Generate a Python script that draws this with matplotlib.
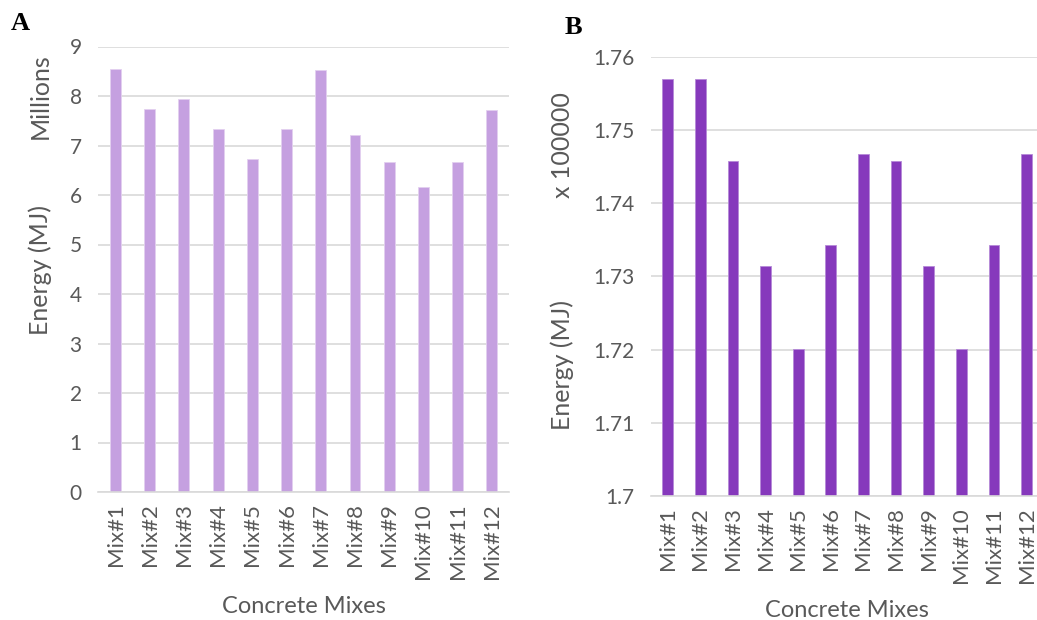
import matplotlib
matplotlib.use("Agg")
import matplotlib.pyplot as plt
import numpy as np

categories = ["Mix#1", "Mix#2", "Mix#3", "Mix#4", "Mix#5", "Mix#6",
              "Mix#7", "Mix#8", "Mix#9", "Mix#10", "Mix#11", "Mix#12"]
energy_a_millions = [8.55, 7.73, 7.94, 7.33, 6.72, 7.33, 8.53, 7.21, 6.67, 6.16, 6.67, 7.72]
energy_b_100000 = [1.7569, 1.7569, 1.7457, 1.7314, 1.7201, 1.7343,
                   1.7467, 1.7457, 1.7314, 1.7201, 1.7343, 1.7467]
yticks_a = [0, 1, 2, 3, 4, 5, 6, 7, 8, 9]
yticks_b = [1.70, 1.71, 1.72, 1.73, 1.74, 1.75, 1.76]
yticklabels_b = ["1.7", "1.71", "1.72", "1.73", "1.74", "1.75", "1.76"]

W, H = 1037, 620
fig = plt.figure(figsize=(W / 100, H / 100), dpi=100)
plt.rcParams['font.family'] = ['Lato', 'DejaVu Sans']

TXT = "#595959"
GRID = "#D9D9D9"

def px_axes(x0, y0, x1, y1):
    return fig.add_axes([x0 / W, 1 - y1 / H, (x1 - x0) / W, (y1 - y0) / H])

def style(ax):
    for s in ["top", "right", "left"]:
        ax.spines[s].set_visible(False)
    ax.spines["bottom"].set_color(GRID)
    ax.spines["bottom"].set_linewidth(1.2)
    ax.tick_params(axis="both", length=0, colors=TXT)
    ax.tick_params(axis="x", rotation=90, pad=8, labelsize=16)
    ax.tick_params(axis="y", pad=12, labelsize=15)
    ax.yaxis.grid(True, color=GRID, linewidth=1.2)
    ax.set_axisbelow(True)

x = np.arange(len(categories))

# Panel A
axA = px_axes(98.4, 46.5, 509, 492)
axA.bar(x, energy_a_millions, width=0.32, color="#C5A0E0", edgecolor="#E3D0F0", linewidth=0.6)
axA.set_xlim(-0.5, len(categories) - 0.5)
axA.set_ylim(0, 9)
axA.set_yticks(yticks_a)
axA.set_xticks(x)
axA.set_xticklabels(categories)
style(axA)
axA.set_xlabel("Concrete Mixes", fontsize=17, color=TXT, labelpad=12)
fig.text(40 / W, 1 - 96 / H, "Millions", rotation=90, ha="center", va="center", fontsize=18, color=TXT)
fig.text(40 / W, 1 - 270 / H, "Energy (MJ)", rotation=90, ha="center", va="center", fontsize=18, color=TXT)
fig.text(11 / W, 1 - 24 / H, "A", fontsize=19, fontweight="bold", family="Liberation Serif", va="center")

# Panel B
axB = px_axes(651.3, 56.7, 1043, 496)
axB.bar(x, energy_b_100000, width=0.33, color="#8639BC", edgecolor="#B58AD8", linewidth=0.6)
axB.set_xlim(-0.5, len(categories) - 0.5)
axB.set_ylim(1.70, 1.76)
axB.set_yticks(yticks_b)
axB.set_yticklabels(yticklabels_b)
axB.set_xticks(x)
axB.set_xticklabels(categories)
style(axB)
axB.set_xlabel("Concrete Mixes", fontsize=17, color=TXT, labelpad=12)
fig.text(562 / W, 1 - 145 / H, "x 100000", rotation=90, ha="center", va="center", fontsize=18, color=TXT)
fig.text(562 / W, 1 - 365 / H, "Energy (MJ)", rotation=90, ha="center", va="center", fontsize=18, color=TXT)
fig.text(565 / W, 1 - 27 / H, "B", fontsize=19, fontweight="bold", family="Liberation Serif", va="center")

fig.savefig("out.png", dpi=100)
